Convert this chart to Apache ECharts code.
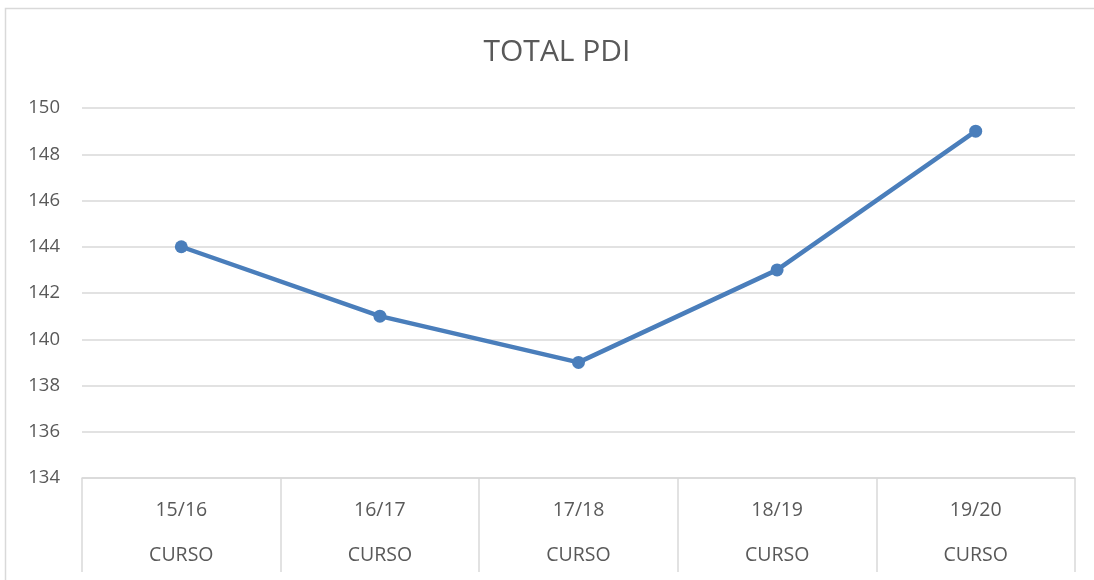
<!DOCTYPE html>
<html><head><meta charset="utf-8">
<script src="https://cdn.jsdelivr.net/npm/echarts@6/dist/echarts.min.js"></script>
<style>html,body{margin:0;padding:0;background:#fff}#c{width:1094px;height:580px}</style>
</head><body><div id="c"></div>
<script>
const categories = ["15/16","16/17","17/18","18/19","19/20"];
const groupLabel = "CURSO";
const values = [144,141,139,143,149];
const yMin = 134, yMax = 150, yStep = 2;
const titleText = "TOTAL PDI";
const font = "'Open Sans', 'Noto Sans', sans-serif";
const chart = echarts.init(document.getElementById('c'));
chart.setOption({
  animation:false,
  title:{text:titleText,left:552,top:32,textAlign:'center',textStyle:{fontFamily:font,fontSize:30,fontWeight:'normal',color:'#595959'}},
  graphic:[{type:'rect',shape:{x:5.5,y:8.5,width:1200,height:700},style:{fill:null,stroke:'#d9d9d9',lineWidth:1.5},silent:true}],
  grid:{left:82,right:19,top:108,bottom:102},
  xAxis:{type:'category',data:categories,boundaryGap:true,
    axisLine:{lineStyle:{color:'#d9d9d9',width:1.5}},
    axisTick:{show:true,interval:0,length:94,lineStyle:{color:'#d9d9d9',width:1.5}},
    axisLabel:{interval:0,margin:10,lineHeight:45,fontFamily:font,fontSize:19.5,color:'#595959',
      formatter:v=>v+'\n'+groupLabel}
  },
  yAxis:{type:'value',min:yMin,max:yMax,interval:yStep,
    axisLine:{show:false},axisTick:{show:false},
    splitLine:{lineStyle:{color:'#d9d9d9',width:1.5}},
    axisLabel:{margin:22,fontFamily:font,fontSize:18.5,color:'#595959'}},
  series:[{type:'line',data:values,symbol:'circle',symbolSize:13,
    lineStyle:{color:'#4a7ebb',width:4.5},itemStyle:{color:'#4a7ebb'}}]
});
</script></body></html>
